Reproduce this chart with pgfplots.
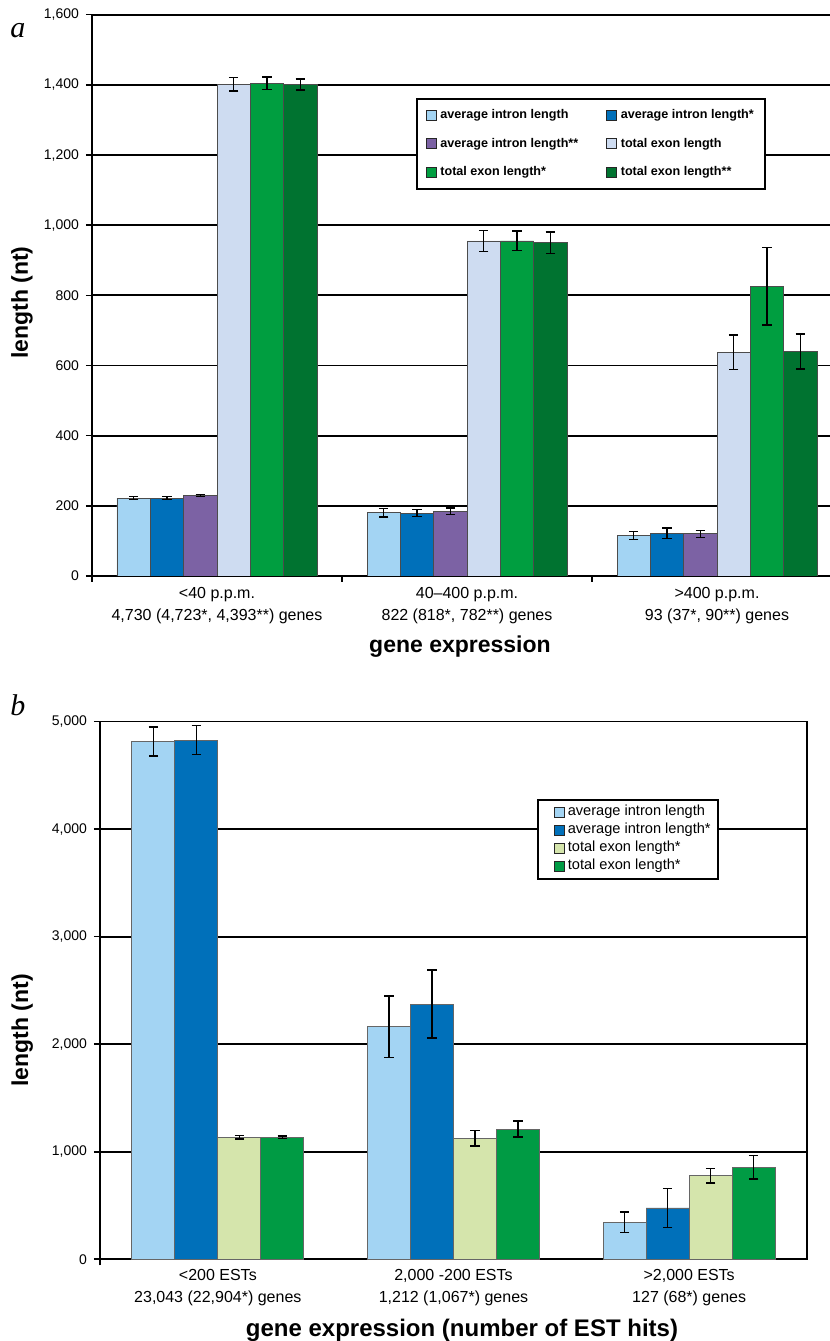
\documentclass[border=0pt]{standalone}
\usepackage{fontspec}
\setmainfont{Liberation Sans}
\newfontfamily\serifit{Liberation Serif}
\usepackage{pgfplots}
\pgfplotsset{compat=1.18}

\definecolor{cLB}{RGB}{163,212,243}
\definecolor{cB}{RGB}{0,112,186}
\definecolor{cP}{RGB}{124,98,164}
\definecolor{cLav}{RGB}{206,220,241}
\definecolor{cG}{RGB}{0,158,64}
\definecolor{cDG}{RGB}{0,115,48}
\definecolor{cLG}{RGB}{213,229,172}
\definecolor{cGb}{RGB}{0,155,68}

\pgfplotsset{
  sqa/.style={legend image code/.code={\path[draw=none,fill=none] (0pt,0pt) -- (6pt,0pt);\draw[##1,draw=black!85,line width=0.5pt] (0pt,-2.5pt) rectangle (5pt,2.5pt);}},
  sqb/.style={legend image code/.code={\path[draw=none,fill=none] (0pt,0pt) -- (11.5pt,0pt);\draw[##1,draw=black!85,line width=0.5pt] (6pt,-2.5pt) rectangle (11pt,2.5pt);}},
  eb/.style={error bars/.cd, y dir=both, y explicit,
     error bar style={line width=0.7pt,black},
     error mark options={rotate=90, mark size=2.4pt, line width=0.7pt, black}},
  common/.style={
    scale only axis,
    ybar=0pt,
    ymajorgrids,
    grid style={black, line width=0.9pt},
    axis line style={black, line width=0.9pt},
    tick align=outside,
    major tick length=3pt,
    tick style={black, line width=0.8pt},
    y tick label style={font=\fontsize{7}{8}\selectfont},
    /pgf/number format/1000 sep={,},
    /pgf/number format/assume math mode=true,
    x tick label style={align=center, font=\fontsize{8}{11}\selectfont},
    label style={font=\bfseries\fontsize{11.5}{13}\selectfont},
    extra x tick style={major tick length=0pt},
  }
}

\begin{document}
\begin{tikzpicture}
\useasboundingbox (0,0) rectangle (415pt,670.5pt);

\node[font=\serifit\itshape\fontsize{15}{15}\selectfont] at (9pt,655pt) {a};
\node[font=\serifit\itshape\fontsize{15}{15}\selectfont] at (9pt,318pt) {b};

% ---------------- panel a
\begin{axis}[common,
  at={(46pt,382.5pt)}, anchor=south west,
  width=369pt, height=280.65pt,
  bar width=16.667pt,
  xmin=-0.5, xmax=2.452, ymin=0, ymax=1600,
  axis x line*=bottom, axis y line*=left,
  ytick={0,200,...,1600},
  xtick={-0.5,0.5,1.5}, xticklabels={,,},
  extra x ticks={0,1,2},
  extra x tick labels={{<40 p.p.m.\\4,730 (4,723*, 4,393**) genes},{40–400 p.p.m.\\822 (818*, 782**) genes},{>400 p.p.m.\\93 (37*, 90**) genes}},
  x tick label style={yshift=-2pt},
  xlabel={gene expression},
  ylabel={length (nt)},
  xlabel style={at={(axis description cs:0.4986,-0.1265)}, anchor=center},
  ylabel style={at={(axis description cs:-0.0949,0.487)}, anchor=center},
  legend style={at={(0.439,0.8516)}, anchor=north west, draw=black, line width=0.9pt,
    font=\bfseries\fontsize{6.3}{7.5}\selectfont,
    nodes={inner sep=1pt, text height=5pt, text depth=1.5pt},
    /tikz/every even column/.append style={column sep=13pt},
    row sep=5.75pt, inner xsep=4.5pt, inner ysep=4pt},
  legend columns=2, legend cell align=left,
]
\addplot[fill=cLB, draw=black!70, line width=0.4pt, sqa, eb] coordinates {(0,222) +- (0,4) (1,180) +- (0,12) (2,115) +- (0,11)};
\addplot[fill=cB, draw=black!70, line width=0.4pt, sqa, eb] coordinates {(0,222) +- (0,4) (1,179) +- (0,10) (2,122) +- (0,15)};
\addplot[fill=cP, draw=black!70, line width=0.4pt, sqa, eb] coordinates {(0,230) +- (0,3) (1,185) +- (0,9) (2,120) +- (0,10)};
\addplot[fill=cLav, draw=black!70, line width=0.4pt, sqa, eb] coordinates {(0,1402) +- (0,19) (1,955) +- (0,30) (2,638) +- (0,49)};
\addplot[fill=cG, draw=black!70, line width=0.4pt, sqa, eb] coordinates {(0,1404) +- (0,18) (1,955) +- (0,28) (2,826) +- (0,110)};
\addplot[fill=cDG, draw=black!70, line width=0.4pt, sqa, eb] coordinates {(0,1401) +- (0,16) (1,950) +- (0,30) (2,640) +- (0,50)};
\legend{average intron length, average intron length*, average intron length**, total exon length, total exon length*, total exon length**}
\end{axis}

% ---------------- panel b
\begin{axis}[common,
  at={(50pt,40.85pt)}, anchor=south west,
  width=353.5pt, height=268.9pt,
  bar width=21.5pt,
  xmin=-0.5, xmax=2.5, ymin=0, ymax=5000,
  ytick={0,1000,...,5000},
  ytick pos=left, xtick pos=bottom,
  xtick={-0.5}, xticklabels={},
  extra x ticks={0,1,2},
  extra x tick labels={{<200 ESTs\\23,043 (22,904*) genes},{2,000 -200 ESTs\\1,212 (1,067*) genes},{>2,000 ESTs\\127 (68*) genes}},
  x tick label style={yshift=-1.5pt},
  xlabel={gene expression (number of EST hits)},
  ylabel={length (nt)},
  xlabel style={at={(axis description cs:0.512,-0.1315)}, anchor=center, font=\bfseries\fontsize{12}{13}\selectfont},
  ylabel style={at={(axis description cs:-0.110,0.426)}, anchor=center},
  legend style={at={(0.618,0.856)}, anchor=north west, draw=black, line width=0.9pt,
    font=\fontsize{7.3}{8}\selectfont,
    nodes={inner sep=1pt, text height=5pt, text depth=1.5pt},
    row sep=0.5pt, inner xsep=2.5pt, inner ysep=2pt},
  legend cell align=left,
]
\addplot[fill=cLB, draw=black!60, line width=0.4pt, sqb, eb] coordinates {(0,4815) +- (0,135) (1,2162) +- (0,287) (2,344) +- (0,97)};
\addplot[fill=cB, draw=black!60, line width=0.4pt, sqb, eb] coordinates {(0,4828) +- (0,137) (1,2373) +- (0,315) (2,477) +- (0,180)};
\addplot[fill=cLG, draw=black!60, line width=0.4pt, sqb, eb] coordinates {(0,1135) +- (0,15) (1,1125) +- (0,70) (2,777) +- (0,68)};
\addplot[fill=cGb, draw=black!60, line width=0.4pt, sqb, eb] coordinates {(0,1135) +- (0,12) (1,1211) +- (0,73) (2,855) +- (0,110)};
\legend{average intron length, average intron length*, total exon length*, total exon length*}
\end{axis}
\end{tikzpicture}
\end{document}
